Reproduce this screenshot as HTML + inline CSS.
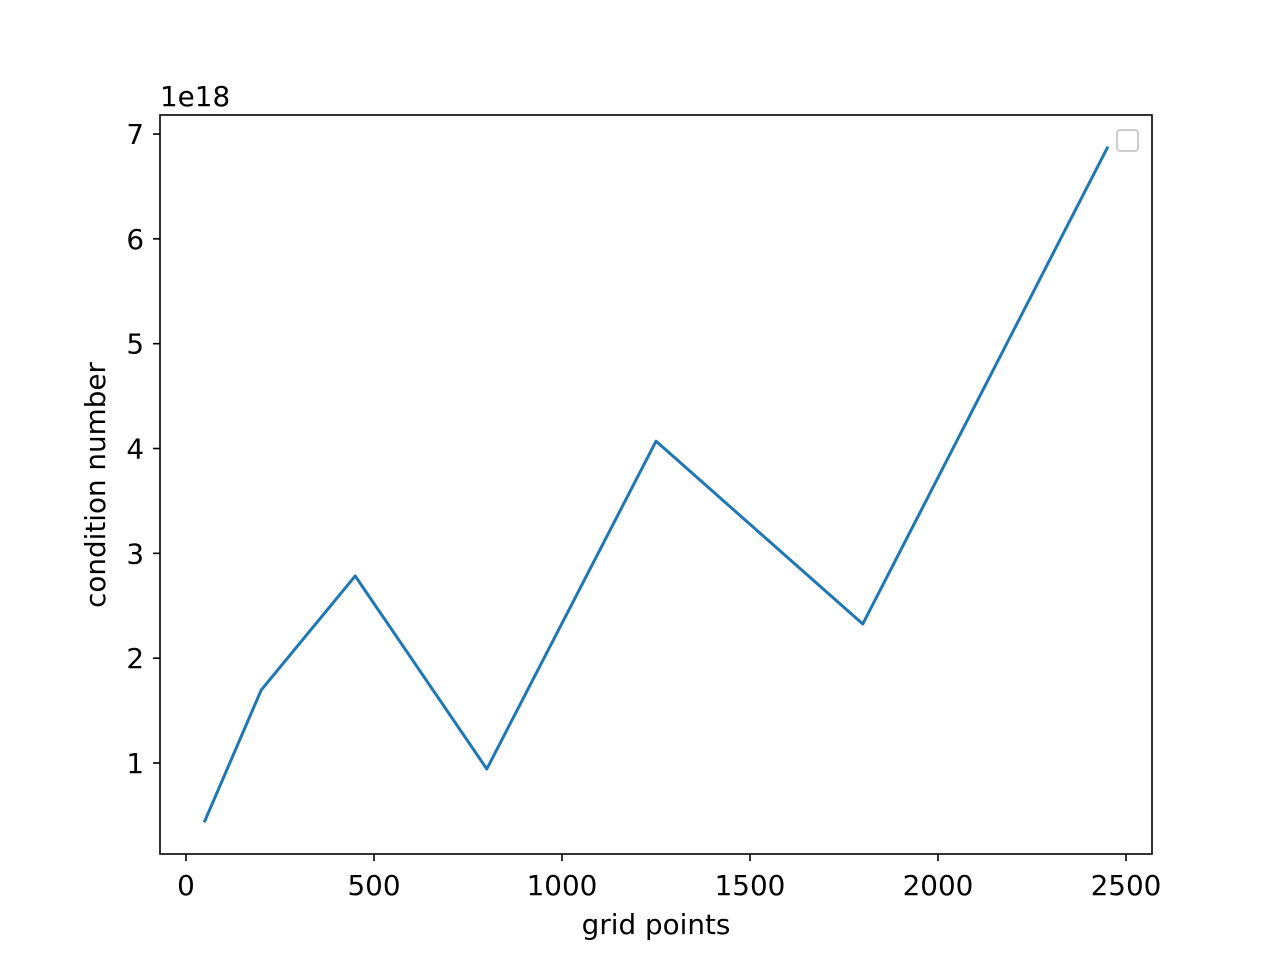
<!DOCTYPE html>
<html><head><meta charset="utf-8"><style>
body{margin:0;background:#fff;}
svg text{font-family:"DejaVu Sans","Liberation Sans",sans-serif;fill:#000;}
</style></head><body>
<svg id="chart" width="1280" height="960" xmlns="http://www.w3.org/2000/svg">
<rect width="1280" height="960" fill="#fff"/>
<g id="ticks"></g>
<path id="line" fill="none" stroke="#1f77b4" stroke-width="3" stroke-linejoin="round" stroke-linecap="square"/>
<rect x="160" y="115" width="992" height="739" fill="none" stroke="#000" stroke-width="1.6"/>
<text x="160" y="106" font-size="27.8">1e18</text>
<text x="656" y="934" font-size="27.8" text-anchor="middle">grid points</text>
<text transform="translate(105,485) rotate(-90)" font-size="27.8" text-anchor="middle">condition number</text>
<rect x="1117" y="130" width="21" height="21" rx="3" fill="#fff" stroke="#ccc" stroke-width="2"/>
</svg>
<script>
const xValues=[50,200,450,800,1250,1800,2450];
const yValues=[0.447,1.696,2.784,0.943,4.07,2.326,6.867];
const xTicks=[0,500,1000,1500,2000,2500];
const yTicks=[1,2,3,4,5,6,7];
function xs(v){return 186+v*0.376;}
function ys(v){return 763-(v-1)*104.83;}
const ns="http://www.w3.org/2000/svg";
const g=document.getElementById('ticks');
xTicks.forEach(t=>{
  const l=document.createElementNS(ns,'line');
  l.setAttribute('x1',xs(t));l.setAttribute('x2',xs(t));l.setAttribute('y1',854);l.setAttribute('y2',861);
  l.setAttribute('stroke','#000');l.setAttribute('stroke-width','1.6');
  
  
  g.appendChild(l);
  const tx=document.createElementNS(ns,'text');
  tx.setAttribute('x',xs(t));tx.setAttribute('y',895);tx.setAttribute('font-size','27.8');tx.setAttribute('text-anchor','middle');
  tx.textContent=t;
  
  
  g.appendChild(tx);
});
yTicks.forEach(t=>{
  const l=document.createElementNS(ns,'line');
  l.setAttribute('x1',153);l.setAttribute('x2',160);l.setAttribute('y1',ys(t));l.setAttribute('y2',ys(t));
  l.setAttribute('stroke','#000');l.setAttribute('stroke-width','1.6');
  
  
  g.appendChild(l);
  const tx=document.createElementNS(ns,'text');
  tx.setAttribute('x',144);tx.setAttribute('y',ys(t)+10);tx.setAttribute('font-size','27.8');tx.setAttribute('text-anchor','end');
  tx.textContent=t;
  
  
  g.appendChild(tx);
});
document.getElementById('line').setAttribute('d',xValues.map((x,i)=>(i?'L':'M')+xs(x)+','+ys(yValues[i])).join(' '));
</script>
</body></html>
